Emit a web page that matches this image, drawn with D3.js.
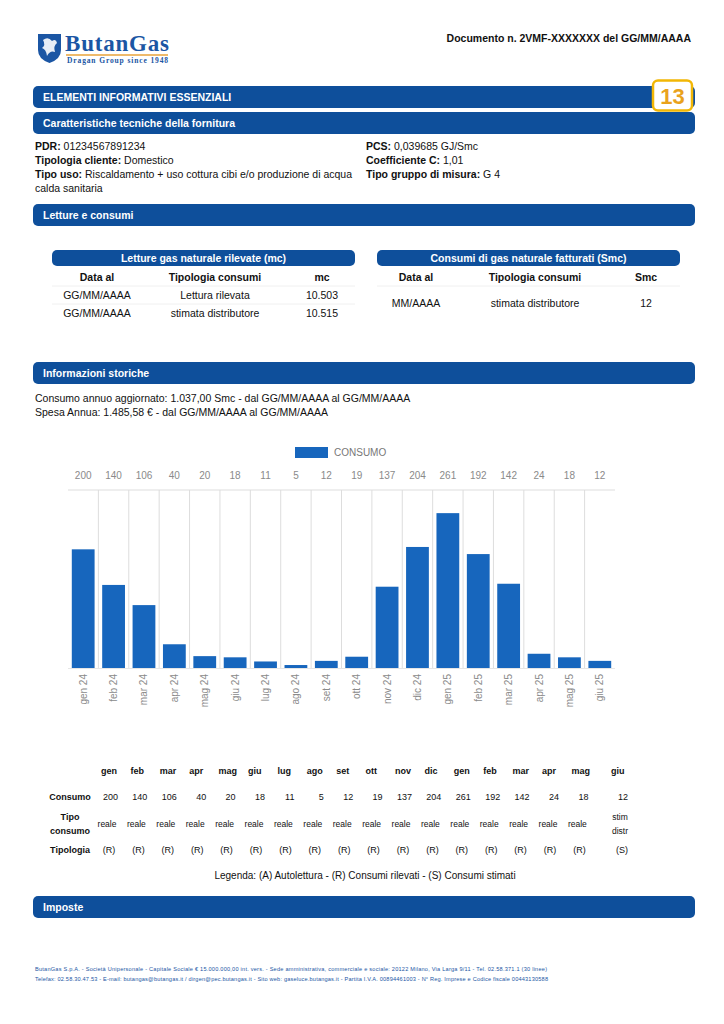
<!DOCTYPE html>
<html><head><meta charset="utf-8">
<script src="https://cdn.jsdelivr.net/npm/d3@7"></script>
<style>
html,body{margin:0;padding:0;background:#fff;}
svg{display:block;font-family:"Liberation Sans",Arial,sans-serif;}
</style></head>
<body>
<svg id="page" width="724" height="1024"></svg>
<script>
// ---- data ----
const months = ["gen 24","feb 24","mar 24","apr 24","mag 24","giu 24","lug 24","ago 24","set 24","ott 24","nov 24","dic 24","gen 25","feb 25","mar 25","apr 25","mag 25","giu 25"];
const consumo = [200,140,106,40,20,18,11,5,12,19,137,204,261,192,142,24,18,12];
const tipoConsumo = ["reale","reale","reale","reale","reale","reale","reale","reale","reale","reale","reale","reale","reale","reale","reale","reale","reale","stim distr"];
const tipologia = ["(R)","(R)","(R)","(R)","(R)","(R)","(R)","(R)","(R)","(R)","(R)","(R)","(R)","(R)","(R)","(R)","(R)","(S)"];
const seriesName = "CONSUMO";
const yMax = 300;

const letture = [["GG/MM/AAAA","Lettura rilevata","10.503"],["GG/MM/AAAA","stimata distributore","10.515"]];
const fatturati = [["MM/AAAA","stimata distributore","12"]];

const NAVY = "#0e4f9b", BAR = "#1766bd";
const svg = d3.select("#page");

// ---- header ----
const logo = svg.append("g");
logo.append("path").attr("d","M38,34 L61,34 L61,50 Q61,59 49.5,63 Q38,59 38,50 Z").attr("fill","#1b56a4");
logo.append("path").attr("d","M43,40 Q48,36 52,41 Q56,38 57,43 Q53,46 55,52 Q50,50 47,56 Q46,49 42,48 Q46,45 43,40Z").attr("fill","#fff").attr("opacity",0.9);
logo.append("text").attr("x",65).attr("y",51).attr("font-family","Liberation Serif, serif").attr("font-weight","bold").attr("font-size",23).attr("fill","#1b56a4").attr("textLength",104).text("ButanGas");
logo.append("line").attr("x1",66).attr("x2",168).attr("y1",55).attr("y2",55).attr("stroke","#e8a33a").attr("stroke-width",1.5);
logo.append("text").attr("x",67).attr("y",63).attr("font-family","Liberation Serif, serif").attr("font-weight","bold").attr("font-size",7.5).attr("fill","#1b56a4").attr("textLength",101).text("Dragan Group since 1948");

svg.append("text").attr("x",691).attr("y",42).attr("text-anchor","end").attr("font-weight","bold").attr("font-size",10.5).attr("fill","#111").text("Documento n. 2VMF-XXXXXXX del GG/MM/AAAA");

function sectionBar(y, label, x0=33, x1=695, h=22){
  svg.append("rect").attr("x",x0).attr("y",y).attr("width",x1-x0).attr("height",h).attr("rx",5).attr("fill",NAVY);
  svg.append("text").attr("x",x0+10).attr("y",y+h/2+4).attr("fill","#fff").attr("font-weight","bold").attr("font-size",10.5).text(label);
}
sectionBar(86,"ELEMENTI INFORMATIVI ESSENZIALI");
svg.append("rect").attr("x",653).attr("y",80.5).attr("width",39).attr("height",30).attr("rx",5).attr("fill","#fff").attr("stroke","#f2b705").attr("stroke-width",2.5);
svg.append("text").attr("x",672.5).attr("y",104).attr("text-anchor","middle").attr("font-weight","bold").attr("font-size",22).attr("fill","#e9a21c").text("13");
sectionBar(112,"Caratteristiche tecniche della fornitura");

function kv(x,y,k,v){
  const t = svg.append("text").attr("x",x).attr("y",y).attr("font-size",10.5).attr("fill","#111");
  t.append("tspan").attr("font-weight","bold").text(k);
  t.append("tspan").text(" "+v);
  return t;
}
kv(35,150,"PDR:","01234567891234");
kv(35,164,"Tipologia cliente:","Domestico");
kv(35,178,"Tipo uso:","Riscaldamento + uso cottura cibi e/o produzione di acqua");
svg.append("text").attr("x",35).attr("y",192).attr("font-size",10.5).attr("fill","#111").text("calda sanitaria");
kv(366,150,"PCS:","0,039685 GJ/Smc");
kv(366,164,"Coefficiente C:","1,01");
kv(366,178,"Tipo gruppo di misura:","G 4");

sectionBar(204,"Letture e consumi");

function miniTable(x0,x1,title,cols,headers,rows,rowYs){
  svg.append("rect").attr("x",x0).attr("y",250).attr("width",x1-x0).attr("height",16).attr("rx",5).attr("fill",NAVY);
  svg.append("text").attr("x",(x0+x1)/2).attr("y",262).attr("text-anchor","middle").attr("fill","#fff").attr("font-weight","bold").attr("font-size",10.5).text(title);
  headers.forEach((h,i)=>svg.append("text").attr("x",cols[i]).attr("y",281).attr("text-anchor","middle").attr("font-weight","bold").attr("font-size",10.5).attr("fill","#111").text(h));
  rows.forEach((r,j)=>{
    svg.append("line").attr("x1",x0).attr("x2",x1).attr("y1",rowYs[j][0]).attr("y2",rowYs[j][0]).attr("stroke","#f0f0f0");
    r.forEach((c,i)=>svg.append("text").attr("x",cols[i]).attr("y",rowYs[j][1]).attr("text-anchor","middle").attr("font-size",10.5).attr("fill","#111").text(c));
  });
}
miniTable(52,355,"Letture gas naturale rilevate (mc)",[97,215,322],["Data al","Tipologia consumi","mc"],letture,[[286,299],[304,317]]);
miniTable(377,680,"Consumi di gas naturale fatturati (Smc)",[416,535,646],["Data al","Tipologia consumi","Smc"],fatturati,[[286,307]]);

sectionBar(362,"Informazioni storiche");
svg.append("text").attr("x",35).attr("y",402).attr("font-size",10.5).attr("fill","#111").text("Consumo annuo aggiornato: 1.037,00 Smc - dal GG/MM/AAAA al GG/MM/AAAA");
svg.append("text").attr("x",35).attr("y",416).attr("font-size",10.5).attr("fill","#111").text("Spesa Annua: 1.485,58 € - dal GG/MM/AAAA al GG/MM/AAAA");

// ---- chart ----
const x = d3.scaleBand().domain(months).range([68,615]).paddingInner(0.25).paddingOuter(0.125);
const y = d3.scaleLinear().domain([0,yMax]).range([668,490]);
const ch = svg.append("g");
// legend
ch.append("rect").attr("x",295).attr("y",447).attr("width",33).attr("height",11).attr("fill",BAR);
ch.append("text").attr("x",334).attr("y",456).attr("font-size",10).attr("fill","#777").text(seriesName);
// gridlines
ch.append("line").attr("x1",68).attr("x2",615).attr("y1",y(yMax)).attr("y2",y(yMax)).attr("stroke","#ddd");
const step = x.step();
d3.range(1,months.length).forEach(k=>{
  const gx = 68 + k*step;
  ch.append("line").attr("x1",gx).attr("x2",gx).attr("y1",y(yMax)).attr("y2",y(0)+1).attr("stroke","#ddd");
});
ch.append("line").attr("x1",68).attr("x2",615).attr("y1",y(0)+0.5).attr("y2",y(0)+0.5).attr("stroke","#e6e6e6");
// bars
ch.selectAll("rect.bar").data(months).join("rect").attr("class","bar")
  .attr("x",d=>x(d)).attr("width",x.bandwidth())
  .attr("y",(d,i)=>y(consumo[i])).attr("height",(d,i)=>y(0)-y(consumo[i])).attr("fill",BAR);
// value labels
ch.selectAll("text.val").data(months).join("text").attr("class","val")
  .attr("x",d=>x(d)+x.bandwidth()/2).attr("y",479).attr("text-anchor","middle")
  .attr("font-size",10).attr("fill","#8a8a8a").text((d,i)=>consumo[i]);
// x axis labels
const xa = ch.append("g").attr("transform","translate(0,672)").call(d3.axisBottom(x).tickSize(0).tickPadding(0));
xa.select(".domain").remove();
xa.selectAll("text").attr("font-size",10).attr("fill","#8a8a8a").attr("font-family","Liberation Sans, Arial, sans-serif")
  .attr("text-anchor","end").attr("dy","0.35em").attr("transform","rotate(-90)").attr("x",-2).attr("y",0);

// ---- table ----
const colStep = 29.4, col0 = 107;
const cx = i => i < months.length-1 ? col0 + colStep*i : 617;
const tb = svg.append("g").attr("font-size",9).attr("fill","#111");
const lbls = [["Consumo",800],["Tipo",820],["consumo",834],["Tipologia",853]];
lbls.forEach(l=>tb.append("text").attr("x",70).attr("y",l[1]).attr("text-anchor","middle").attr("font-weight","bold").text(l[0]));
months.forEach((m,i)=>{
  tb.append("text").attr("x",cx(i)-6).attr("y",774).attr("font-weight","bold").text(m.split(" ")[0]);
  tb.append("text").attr("x",i < months.length-1 ? cx(i)+11 : 628).attr("y",800).attr("text-anchor","end").text(consumo[i]);
  const tc = tipoConsumo[i].split(" ");
  if(tc.length===1){
    tb.append("text").attr("x",cx(i)).attr("y",827).attr("text-anchor","middle").attr("font-size",8.5).text(tc[0]);
  } else {
    tb.append("text").attr("x",cx(i)+3).attr("y",820).attr("text-anchor","middle").attr("font-size",8.5).text(tc[0]);
    tb.append("text").attr("x",cx(i)+3).attr("y",834).attr("text-anchor","middle").attr("font-size",8.5).text(tc[1]);
  }
  tb.append("text").attr("x",i < months.length-1 ? cx(i)+2 : 622).attr("y",853).attr("text-anchor","middle").text(tipologia[i]);
});
svg.append("text").attr("x",365).attr("y",879).attr("text-anchor","middle").attr("font-size",10).attr("fill","#111")
  .text("Legenda: (A) Autolettura - (R) Consumi rilevati - (S) Consumi stimati");

sectionBar(896,"Imposte");

// ---- footer ----
svg.append("text").attr("x",35).attr("y",971).attr("font-size",5.6).attr("fill","#1b56a4").attr("textLength",512)
  .text("ButanGas S.p.A. - Società Unipersonale - Capitale Sociale € 15.000.000,00 int. vers. - Sede amministrativa, commerciale e sociale: 20122 Milano, Via Larga 9/11 - Tel. 02.58.371.1 (30 linee)");
svg.append("text").attr("x",35).attr("y",981).attr("font-size",5.6).attr("fill","#1b56a4").attr("textLength",513)
  .text("Telefax: 02.58.30.47.53 - E-mail: butangas@butangas.it / dirgen@pec.butangas.it - Sito web: gaseluce.butangas.it - Partita I.V.A. 00894461003 - N° Reg. Imprese e Codice fiscale 00443130588");
</script>
</body></html>
